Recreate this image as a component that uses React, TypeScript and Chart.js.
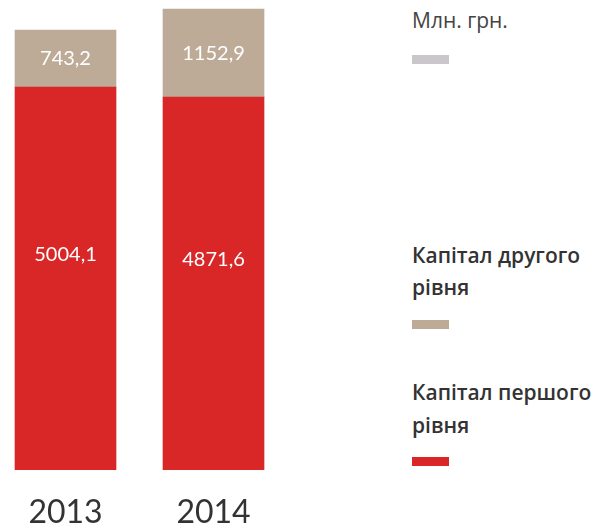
import React, { useEffect, useRef } from "react";
import { Chart, registerables } from "chart.js";

Chart.register(...registerables);

const years = ["2013", "2014"];
const tier1 = [5004.1, 4871.6];
const tier2 = [743.2, 1152.9];
const unitLabel = "Млн. грн.";
const tier2Label = ["Капітал другого", "рівня"];
const tier1Label = ["Капітал першого", "рівня"];

const RED = "#d92727";
const TAN = "#bdab98";
const GREY = "#c9c7c9";
const FONT = "Lato, 'Open Sans', sans-serif";
const LFONT = "'Open Sans', Lato, sans-serif";

const valueLabels = {
  id: "valueLabels",
  afterDatasetsDraw(chart: any) {
    const ctx = chart.ctx;
    ctx.save();
    ctx.fillStyle = "#ffffff";
    ctx.font = `20px ${FONT}`;
    ctx.textAlign = "center";
    ctx.textBaseline = "middle";
    chart.data.datasets.forEach((ds: any, di: number) => {
      const meta = chart.getDatasetMeta(di);
      meta.data.forEach((el: any, i: number) => {
        const v = ds.data[i] as number;
        const off = di === 0 ? -24 : 0;
        const y = (el.y + el.base) / 2 + off;
        ctx.fillText(v.toFixed(1).replace(".", ","), el.x, y);
      });
    });
    ctx.restore();
  },
};

export default function App() {
  const ref = useRef<HTMLCanvasElement | null>(null);
  useEffect(() => {
    if (!ref.current) return;
    const chart = new Chart(ref.current, {
      type: "bar",
      data: {
        labels: years,
        datasets: [
          { label: tier1Label.join(" "), data: tier1, backgroundColor: RED, barThickness: 101, clip: false as any },
          { label: tier2Label.join(" "), data: tier2, backgroundColor: TAN, barThickness: 101, clip: false as any },
        ],
      },
      options: {
        animation: false,
        responsive: false,
        layout: { padding: { left: 65.5, right: 86.5, top: 9, bottom: 0 } },
        plugins: { legend: { display: false }, tooltip: { enabled: false } },
        scales: {
          x: {
            stacked: true,
            offset: false,
            grid: { display: false, drawTicks: false },
            border: { display: false },
            ticks: { padding: 24, color: "#333333", font: { size: 32, family: FONT }, autoSkip: false, maxRotation: 0 },
          },
          y: {
            stacked: true,
            display: false,
            min: 0,
            max: 6024.5,
          },
        },
      },
      plugins: [valueLabels],
    });
    return () => chart.destroy();
  }, []);

  const text: React.CSSProperties = { position: "absolute", left: 412, fontFamily: LFONT, whiteSpace: "nowrap", margin: 0 };
  const sw = (top: number, color: string): React.CSSProperties => ({
    position: "absolute", left: 412, top, width: 37, height: 9, background: color,
  });

  return (
    <div style={{ position: "absolute", left: 0, top: 0, width: 602, height: 528, background: "#fff", overflow: "hidden" }}>
      <canvas ref={ref} width={300} height={556} style={{ position: "absolute", left: 0, top: 0 }} />
      <div style={{ ...text, top: 8, fontSize: 21, lineHeight: "24px", color: "#444" }}>{unitLabel}</div>
      <div style={sw(55, GREY)} />
      <div style={{ ...text, top: 239, fontSize: 21, lineHeight: "32px", fontWeight: 600, color: "#333" }}>
        {tier2Label[0]}<br />{tier2Label[1]}
      </div>
      <div style={sw(320, TAN)} />
      <div style={{ ...text, top: 376, fontSize: 21, lineHeight: "33px", fontWeight: 600, color: "#333" }}>
        {tier1Label[0]}<br />{tier1Label[1]}
      </div>
      <div style={sw(457, RED)} />
    </div>
  );
}
